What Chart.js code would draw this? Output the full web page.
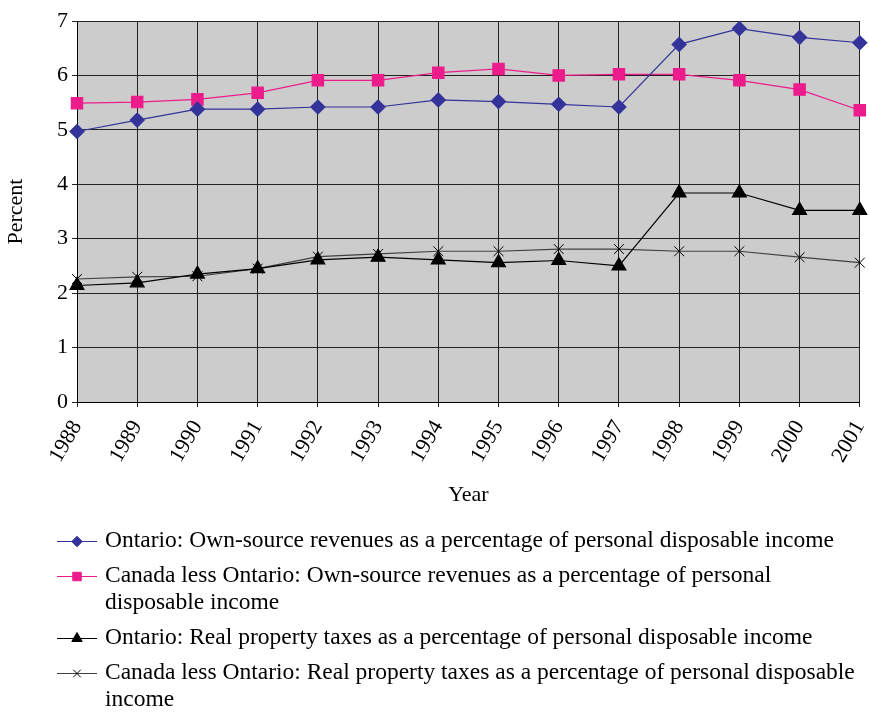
<!DOCTYPE html>
<html>
<head>
<meta charset="utf-8">
<script src="https://cdn.jsdelivr.net/npm/chart.js@4.4.1/dist/chart.umd.min.js"></script>
<style>
  html, body { margin: 0; padding: 0; background: #ffffff; }
  #wrap { width: 869px; height: 712px; position: relative; }
</style>
</head>
<body>
<div id="wrap"><canvas id="c" width="869" height="712"></canvas></div>
<script>
const years = ['1988','1989','1990','1991','1992','1993','1994','1995','1996','1997','1998','1999','2000','2001'];
const ontarioOwnSource = [4.97, 5.18, 5.38, 5.38, 5.42, 5.42, 5.55, 5.52, 5.47, 5.42, 6.57, 6.86, 6.70, 6.60];
const canadaLessOntarioOwnSource = [5.49, 5.51, 5.56, 5.68, 5.91, 5.91, 6.05, 6.12, 6.00, 6.02, 6.02, 5.91, 5.74, 5.36];
const ontarioPropertyTax = [2.14, 2.19, 2.35, 2.45, 2.61, 2.66, 2.61, 2.56, 2.60, 2.50, 3.84, 3.84, 3.52, 3.52];
const canadaLessOntarioPropertyTax = [2.26, 2.30, 2.31, 2.45, 2.67, 2.72, 2.77, 2.77, 2.81, 2.81, 2.77, 2.77, 2.66, 2.56];
const seriesLabels = [
  'Ontario: Own-source revenues as a percentage of personal disposable income',
  'Canada less Ontario: Own-source revenues as a percentage of personal disposable income',
  'Ontario: Real property taxes as a percentage of personal disposable income',
  'Canada less Ontario: Real property taxes as a percentage of personal disposable income'
];
const yTicks = [0, 1, 2, 3, 4, 5, 6, 7];
const xTitle = 'Year';
const yTitle = 'Percent';

const FONT = '"Liberation Serif", "Times New Roman", serif';

const plotBg = {
  id: 'plotBg',
  beforeDraw(chart) {
    const a = chart.chartArea, ctx = chart.ctx;
    ctx.save();
    ctx.fillStyle = '#cccccc';
    ctx.fillRect(a.left, a.top, a.right - a.left, a.bottom - a.top);
    ctx.restore();
  }
};

const customLegend = {
  id: 'customLegend',
  afterDraw(chart) {
    const ctx = chart.ctx;
    ctx.save();
    ctx.font = '23.5px ' + FONT;
    ctx.textBaseline = 'middle';
    ctx.textAlign = 'left';
    const textX = 105, maxW = 762;
    let y = 541;
    chart.data.datasets.forEach((ds, i) => {
      const words = ds.label.split(' ');
      const lines = [];
      let cur = '';
      words.forEach(w => {
        const t = cur ? cur + ' ' + w : w;
        if (ctx.measureText(t).width > maxW && cur) { lines.push(cur); cur = w; }
        else cur = t;
      });
      if (cur) lines.push(cur);
      const sy = Math.round(y) + 0.5;
      ctx.strokeStyle = ds.borderColor;
      ctx.lineWidth = 1;
      ctx.beginPath();
      ctx.moveTo(57, sy);
      ctx.lineTo(97, sy);
      ctx.stroke();
      ctx.fillStyle = ds.pointBackgroundColor;
      ctx.strokeStyle = ds.pointBorderColor;
      Chart.helpers.drawPoint(ctx, {
        pointStyle: ds.pointStyle,
        radius: ds.pointRadius * 0.75,
        rotation: 0,
        borderWidth: 1
      }, 77, sy);
      ctx.fillStyle = '#000';
      lines.forEach((ln, k) => {
        ctx.fillText(ln, textX, y + k * 27);
      });
      y += lines.length * 27 + 8;
    });
    ctx.restore();
  }
};

const ctx = document.getElementById('c').getContext('2d');
new Chart(ctx, {
  type: 'line',
  data: {
    labels: years,
    datasets: [
      {
        label: seriesLabels[0],
        data: ontarioOwnSource,
        borderColor: '#333399',
        backgroundColor: '#333399',
        pointBackgroundColor: '#333399',
        pointBorderColor: '#333399',
        pointStyle: 'rectRot',
        pointRadius: 7,
        borderWidth: 1.2,
        tension: 0
      },
      {
        label: seriesLabels[1],
        data: canadaLessOntarioOwnSource,
        borderColor: '#ec1c8c',
        backgroundColor: '#ec1c8c',
        pointBackgroundColor: '#ec1c8c',
        pointBorderColor: '#ec1c8c',
        pointStyle: 'rect',
        pointRadius: 8,
        borderWidth: 1.2,
        tension: 0
      },
      {
        label: seriesLabels[2],
        data: ontarioPropertyTax,
        borderColor: '#000000',
        backgroundColor: '#000000',
        pointBackgroundColor: '#000000',
        pointBorderColor: '#000000',
        pointStyle: 'triangle',
        pointRadius: 8,
        borderWidth: 1.2,
        tension: 0
      },
      {
        label: seriesLabels[3],
        data: canadaLessOntarioPropertyTax,
        borderColor: '#404040',
        backgroundColor: '#000000',
        pointBackgroundColor: '#000000',
        pointBorderColor: '#000000',
        pointStyle: 'crossRot',
        pointRadius: 7,
        pointBorderWidth: 1,
        borderWidth: 1.2,
        tension: 0
      }
    ]
  },
  options: {
    responsive: false,
    animation: false,
    layout: { padding: { top: 21, right: 9, left: 0, bottom: 200 } },
    plugins: {
      legend: { display: false },
      tooltip: { enabled: false }
    },
    scales: {
      x: {
        offset: false,
        grid: { color: '#222222', lineWidth: 1, drawTicks: true, tickLength: 5, tickColor: '#222' },
        border: { color: '#000', width: 1 },
        ticks: {
          color: '#000',
          font: { family: FONT, size: 22 },
          maxRotation: 60, minRotation: 60,
          padding: 9,
          autoSkip: false
        },
        title: { display: true, text: xTitle, color: '#000', font: { family: FONT, size: 22 }, padding: { top: 4, bottom: 4 } },
        afterFit(scale) {
          scale.height = 110;
          scale.paddingLeft = 0;
          scale.paddingRight = 0;
        }
      },
      y: {
        min: 0, max: 7,
        afterBuildTicks(scale) { scale.ticks = yTicks.map(v => ({ value: v })); },
        grid: { color: '#222222', lineWidth: 1, tickLength: 5, tickColor: '#222' },
        border: { color: '#000', width: 1 },
        ticks: { color: '#000', font: { family: FONT, size: 22 }, padding: 4 },
        title: { display: true, text: yTitle, color: '#000', font: { family: FONT, size: 22 }, padding: { top: 3, bottom: 4 } },
        afterFit(scale) { scale.width = 77; scale.paddingTop = 0; scale.paddingBottom = 0; }
      }
    }
  },
  plugins: [plotBg, customLegend]
});
</script>
</body>
</html>
